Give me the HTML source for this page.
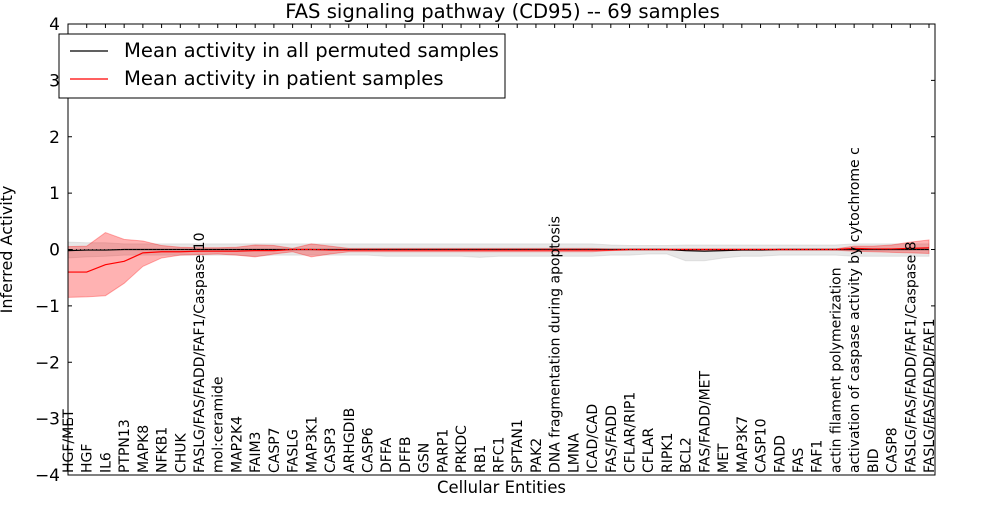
<!DOCTYPE html>
<html><head><meta charset="utf-8"><style>
body{margin:0;background:#fff;font-family:"Liberation Sans","DejaVu Sans",sans-serif}
svg text{font-family:"DejaVu Sans","Liberation Sans",sans-serif}
</style></head><body>
<svg id="c" width="1000" height="500" xmlns="http://www.w3.org/2000/svg"></svg>
<script>
const categories=["HGF/MET","HGF","IL6","PTPN13","MAPK8","NFKB1","CHUK","FASLG/FAS/FADD/FAF1/Caspase 10","mol:ceramide","MAP2K4","FAIM3","CASP7","FASLG","MAP3K1","CASP3","ARHGDIB","CASP6","DFFA","DFFB","GSN","PARP1","PRKDC","RB1","RFC1","SPTAN1","PAK2","DNA fragmentation during apoptosis","LMNA","ICAD/CAD","FAS/FADD","CFLAR/RIP1","CFLAR","RIPK1","BCL2","FAS/FADD/MET","MET","MAP3K7","CASP10","FADD","FAS","FAF1","actin filament polymerization","activation of caspase activity by cytochrome c","BID","CASP8","FASLG/FAS/FADD/FAF1/Caspase 8","FASLG/FAS/FADD/FAF1"];
const patientMean=[-0.4,-0.4,-0.27,-0.21,-0.06,-0.04,-0.04,-0.03,-0.03,-0.03,-0.02,-0.02,0,0,-0.01,-0.01,-0.01,-0.01,-0.01,-0.01,-0.01,-0.01,-0.01,-0.01,-0.01,-0.01,-0.01,-0.01,-0.01,-0.01,0,0,0,0,0,0,0,0,0,0,0,0,0.02,0.01,0.01,0.02,0.03];
const patientUpper=[0.05,0.06,0.3,0.18,0.15,0.07,0.04,0.03,0.03,0.04,0.08,0.07,0.02,0.1,0.06,0.02,0.02,0.02,0.02,0.02,0.02,0.02,0.02,0.02,0.02,0.02,0.02,0.02,0.02,0.01,0.01,0.01,0.01,0.01,0.01,0.01,0.01,0.01,0.01,0.01,0.01,0.01,0.06,0.06,0.08,0.13,0.17];
const patientLower=[-0.85,-0.84,-0.82,-0.6,-0.3,-0.15,-0.1,-0.09,-0.08,-0.1,-0.13,-0.08,-0.04,-0.13,-0.08,-0.04,-0.04,-0.04,-0.04,-0.04,-0.04,-0.04,-0.04,-0.04,-0.04,-0.04,-0.04,-0.04,-0.04,-0.02,-0.01,-0.01,-0.01,-0.01,-0.01,-0.01,-0.01,-0.01,-0.01,-0.01,-0.01,-0.01,-0.03,-0.04,-0.05,-0.06,-0.07];
const permMean=[-0.02,-0.01,-0.01,0,0,0,0,0,0,0,0,0,0,0,0,0,0,0,0,0,0,0,0,0,0,0,0,0,0,0,0,0,0,-0.02,-0.03,-0.02,-0.01,-0.01,0,0,0,0,0,0,0,0,0];
const permUpper=[0.13,0.12,0.12,0.1,0.1,0.1,0.1,0.1,0.1,0.1,0.1,0.1,0.1,0.1,0.1,0.1,0.1,0.1,0.1,0.1,0.1,0.1,0.1,0.1,0.1,0.1,0.1,0.1,0.1,0.08,0.07,0.07,0.07,0.08,0.08,0.08,0.08,0.08,0.08,0.08,0.08,0.08,0.1,0.1,0.1,0.1,0.1];
const permLower=[-0.15,-0.13,-0.12,-0.1,-0.1,-0.1,-0.1,-0.1,-0.1,-0.1,-0.12,-0.1,-0.1,-0.1,-0.1,-0.1,-0.1,-0.12,-0.12,-0.12,-0.12,-0.12,-0.14,-0.12,-0.12,-0.12,-0.12,-0.12,-0.12,-0.1,-0.1,-0.08,-0.08,-0.2,-0.2,-0.15,-0.12,-0.12,-0.1,-0.1,-0.1,-0.1,-0.12,-0.12,-0.12,-0.12,-0.12];
const yTicks=[-4,-3,-2,-1,0,1,2,3,4];
const tickLabels=["\u22124","\u22123","\u22122","\u22121","0","1","2","3","4"];
const svg=document.getElementById('c');const NS="http://www.w3.org/2000/svg";
const L=68,R=935,T=24,B=475;
const x=i=>L+i*(R-6-L)/(categories.length-1);
const y=v=>T+(4-v)*(B-T)/8;
function el(t,a,p){const e=document.createElementNS(NS,t);for(const k in a)e.setAttribute(k,a[k]);(p||svg).appendChild(e);return e;}
function band(u,l,fill,op,name){let d=u.map((v,i)=>(i?'L':'M')+x(i)+','+y(v)).join('')+l.map((v,i)=>i).reverse().map(i=>'L'+x(i)+','+y(l[i])).join('')+'Z';
const e=el('path',{d,fill,'fill-opacity':op,stroke:fill,'stroke-opacity':op});

}
function line(vals,color,name){const e=el('path',{d:vals.map((v,i)=>(i?'L':'M')+x(i)+','+y(v)).join(''),fill:'none',stroke:color,'stroke-width':1.2});

}
band(permUpper,permLower,'#bbbbbb',0.35,'permuted-band');
band(patientUpper,patientLower,'#ff0000',0.3,'patient-band');
line(permMean,'#000','permuted-mean-line');
line(patientMean,'#f00','patient-mean-line');
const dl=el('line',{x1:L,x2:R,y1:y(0),y2:y(0),stroke:'#222','stroke-dasharray':'1,3'});


categories.forEach((c,i)=>{const t=el('text',{x:0,y:0,transform:`translate(${x(i)+5},${B-2}) rotate(-90)`,'font-size':14});t.textContent=c;


el('line',{x1:x(i),x2:x(i),y1:T,y2:T+4,stroke:'#000'});});
yTicks.forEach((v,i)=>{el('line',{x1:L,x2:L+4,y1:y(v),y2:y(v),stroke:'#000'});el('line',{x1:R,x2:R-4,y1:y(v),y2:y(v),stroke:'#000'});
const t=el('text',{x:L-8,y:y(v)+6,'text-anchor':'end','font-size':17});t.textContent=tickLabels[i];

});
const fr=el('rect',{x:L,y:T,width:R-L,height:B-T,fill:'none',stroke:'#000'});


const ti=el('text',{x:(L+R)/2+1,y:18,'text-anchor':'middle','font-size':19.6});ti.textContent='FAS signaling pathway (CD95) -- 69 samples';


const xt=el('text',{x:(L+R)/2,y:493,'text-anchor':'middle','font-size':16.4});xt.textContent='Cellular Entities';


const yt=el('text',{x:0,y:0,transform:`translate(12,${(T+B)/2}) rotate(-90)`,'text-anchor':'middle','font-size':16});yt.textContent='Inferred Activity';


const lg=el('g',{});


el('rect',{x:59,y:34,width:446,height:64,fill:'#fff',stroke:'#000'},lg);
el('line',{x1:70,x2:108,y1:51,y2:51,stroke:'#000','stroke-width':1.2},lg);
el('line',{x1:70,x2:108,y1:79,y2:79,stroke:'#f00','stroke-width':1.2},lg);
const l1=el('text',{x:124,y:57,'font-size':19.6},lg);l1.textContent='Mean activity in all permuted samples';


const l2=el('text',{x:124,y:85,'font-size':19.6},lg);l2.textContent='Mean activity in patient samples';


</script>
</body></html>
